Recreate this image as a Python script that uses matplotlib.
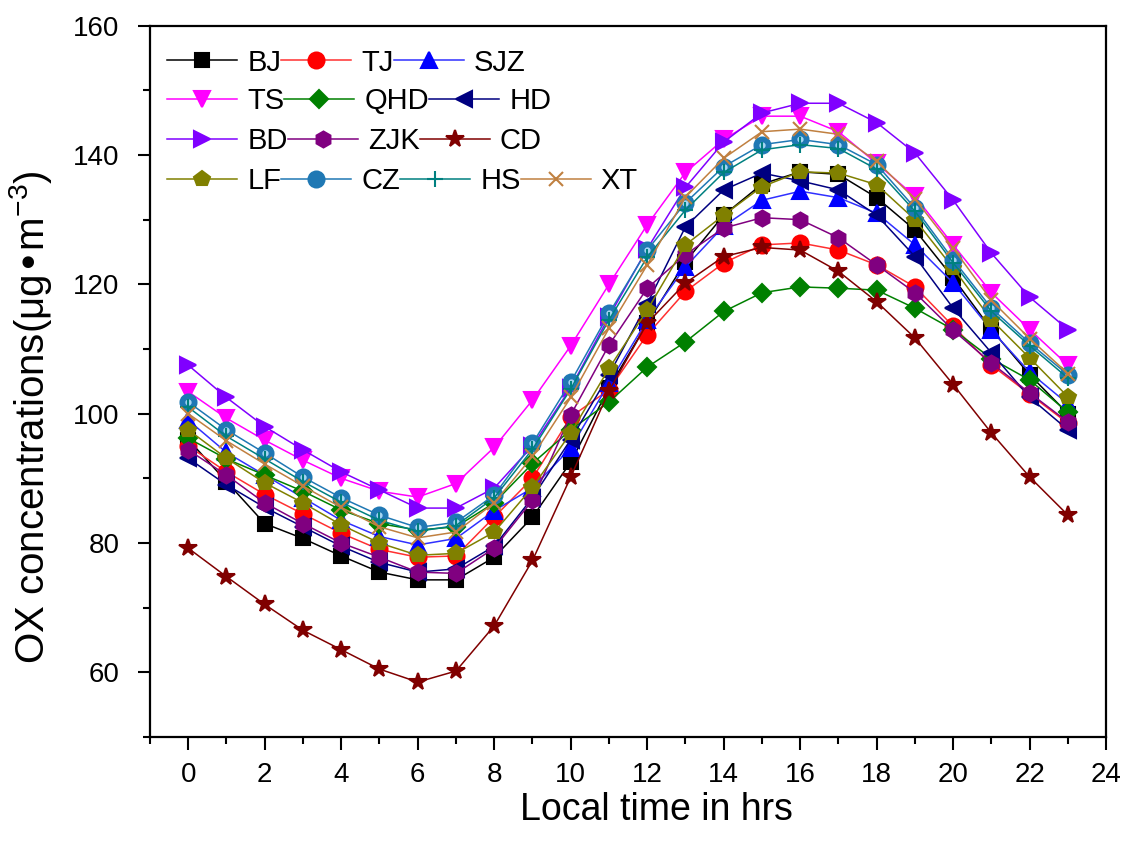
import matplotlib
matplotlib.use('Agg')
import matplotlib.pyplot as plt
from matplotlib.ticker import MultipleLocator

plt.rcParams['font.family'] = ['Liberation Sans', 'DejaVu Sans']
plt.rcParams['mathtext.default'] = 'regular'

# hours of the day
hours = list(range(24))

# OX concentrations per city
BJ = [96, 89.5, 83, 80.7, 78, 75.5, 74.3, 74.3, 77.8, 84, 92.5, 104, 114, 123.5,
      130.7, 135.5, 137.4, 137, 133.4, 128.4, 121, 113, 106, 100]
TJ = [95, 91, 87.5, 84.5, 81.5, 79, 77.8, 78, 84, 90, 99.5, 103.7, 112.2, 118.9,
      123.3, 126.1, 126.4, 125.3, 123, 119.6, 113.5, 107.5, 103, 98.5]
SJZ = [99, 94, 90.5, 87, 83.5, 81, 79.7, 80.7, 85, 88.5, 94.7, 104.7, 114.5, 122.7,
       129, 133, 134.4, 133.4, 131, 126.1, 120.2, 112.9, 106.4, 101.5]
TS = [103.4, 99.3, 95.9, 92.8, 90, 88, 87.1, 89.2, 94.8, 102.1, 110.5, 120, 129.2, 137.3,
      142.4, 146, 146, 143.6, 138.7, 133.6, 126.1, 118.7, 113, 107.5]
QHD = [96.2, 93, 90.5, 88, 85.1, 83, 82, 82.5, 86.2, 92.3, 97.5, 101.8, 107.2, 111.1,
       115.8, 118.7, 119.6, 119.4, 119.1, 116.3, 113, 108.5, 105.2, 100.2]
HD = [93.1, 89, 85.5, 82.5, 79.5, 77, 75.5, 76, 79.5, 87, 96, 106, 117, 128.9,
      134.6, 137.2, 136, 134.6, 130.7, 124.3, 116.3, 109.4, 102.5, 97.5]
BD = [107.5, 102.5, 98, 94.4, 91, 88.2, 85.4, 85.4, 88.5, 95, 104, 115, 125.5, 135,
      142, 146.5, 148, 148, 145, 140.3, 133, 124.8, 118, 113]
ZJK = [94.4, 90.5, 86.2, 83, 80, 77.8, 75.5, 75.3, 79.2, 86.6, 99.8, 110.6, 119.4, 124.6,
       128.7, 130.3, 130, 127.2, 123, 118.7, 112.9, 107.8, 103.2, 98.7]
CD = [79.2, 74.8, 70.5, 66.5, 63.5, 60.5, 58.5, 60.2, 67.2, 77.3, 90.2, 103.5, 114, 120.2,
      124.3, 125.7, 125.3, 122, 117.3, 111.7, 104.5, 97, 90.2, 84.3]
LF = [97.5, 93.1, 89.3, 86.2, 82.8, 80, 78.1, 78.4, 81.7, 88.6, 97, 107, 116, 126.1,
      130.7, 135.1, 137.4, 137.2, 135.4, 130, 122.5, 114.5, 108.6, 102.6]
CZ = [101.8, 97.5, 93.9, 90.2, 87, 84.3, 82.4, 83.2, 87.4, 95.4, 104.9, 115.5, 125.3, 132.6,
      138.2, 141.6, 142.4, 141.6, 138.5, 131.8, 123.8, 116.3, 110.9, 106]
HS = [101, 96.5, 93, 89.5, 86.3, 83.5, 81.8, 82.7, 87, 94.5, 103.8, 114.5, 124.2, 131.5,
      137.3, 140.8, 141.6, 141, 137.8, 131.3, 123.3, 115.8, 110.5, 105.5]
XT = [100, 95.8, 92.2, 88.8, 85.5, 82.5, 80.8, 81.7, 86.2, 93.4, 102.5, 113.2, 123, 133.5,
      139.5, 143.6, 144, 143.2, 139, 133.2, 125.6, 117.5, 111.6, 106.2]

cities = ['BJ', 'TJ', 'SJZ', 'TS', 'QHD', 'HD', 'BD', 'ZJK', 'CD', 'LF', 'CZ', 'HS', 'XT']
values = [BJ, TJ, SJZ, TS, QHD, HD, BD, ZJK, CD, LF, CZ, HS, XT]

# legend rows as in the original (each row flows left to right)
legend_rows = [['BJ', 'TJ', 'SJZ'], ['TS', 'QHD', 'HD'], ['BD', 'ZJK', 'CD'],
               ['LF', 'CZ', 'HS', 'XT']]

# style per city: (line colour, marker, marker face colour)
styles = {
    'BJ': ('#000000', 's', '#000000'),
    'TJ': ('#ff3030', 'o', '#ff0000'),
    'SJZ': ('#3030ff', '^', '#0000ff'),
    'TS': ('#ff00ff', 'v', '#ff00ff'),
    'QHD': ('#008000', 'D', '#008000'),
    'HD': ('#000080', '<', '#000080'),
    'BD': ('#8000ff', '>', '#8000ff'),
    'ZJK': ('#800080', 'h', '#800080'),
    'CD': ('#800000', '*', '#800000'),
    'LF': ('#808000', 'p', '#808000'),
    'CZ': ('#1f78b4', 'o', '#1f78b4'),
    'HS': ('#008080', '+', '#008080'),
    'XT': ('#c08040', 'x', '#c08040'),
}
sizes = {'*': 13, 'D': 9.5, 'x': 10, '+': 12, 'h': 11.5, 'p': 11.5, 's': 9.5}

fig = plt.figure(figsize=(11.31, 8.55), dpi=100)
ax = fig.add_axes([0.1326, 0.138, 0.8455, 0.832])

handles = {}
for name, vals in zip(cities, values):
    col, mk, fc = styles[name]
    line, = ax.plot(hours, vals, color=col, lw=1.1, marker=mk, markersize=sizes.get(mk, 11.5),
                    markerfacecolor=fc, markeredgecolor=fc, markeredgewidth=1.5, label=name)
    handles[name] = line
    if name == 'CZ':
        # small highlight to mimic the shaded sphere marker
        ax.plot(hours, vals, ls='none', marker='o', markersize=3.5, color='#a8d8f5')

ax.set_xlim(-1, 24)
ax.set_ylim(50, 160)
ax.xaxis.set_major_locator(MultipleLocator(2))
ax.xaxis.set_minor_locator(MultipleLocator(1))
ax.yaxis.set_major_locator(MultipleLocator(20))
ax.yaxis.set_minor_locator(MultipleLocator(10))
ax.set_xticks(range(0, 25, 2))
ax.set_yticks(range(60, 161, 20))
ax.tick_params(which='major', direction='out', length=9, width=1.5, labelsize=20,
               top=False, right=False)
ax.tick_params(which='minor', direction='out', length=5, width=1.5, top=False, right=False)
ax.tick_params(axis='x', which='major', pad=9)
ax.tick_params(axis='y', which='major', pad=13)
for sp in ax.spines.values():
    sp.set_linewidth(1.6)

ax.set_xlabel('Local time in hrs', fontsize=27)
ax.set_ylabel('OX concentrations(μg•m$^{-3}$)', fontsize=29)
ax.xaxis.set_label_coords(0.530, -0.078)
ax.yaxis.set_label_coords(-0.100, 0.45)

# one legend per row so each entry follows right after the previous text
row_y = [0.948, 0.894, 0.838, 0.782]
for i, row in enumerate(legend_rows):
    leg = ax.legend([handles[n] for n in row], row, ncol=len(row), frameon=False,
                    fontsize=21, loc='center left', bbox_to_anchor=(0.0178, row_y[i]),
                    handlelength=2.4, handletextpad=0.35, columnspacing=0.0,
                    borderpad=0.0, borderaxespad=0.0)
    if i < len(legend_rows) - 1:
        ax.add_artist(leg)

fig.savefig('out.png', dpi=100)
